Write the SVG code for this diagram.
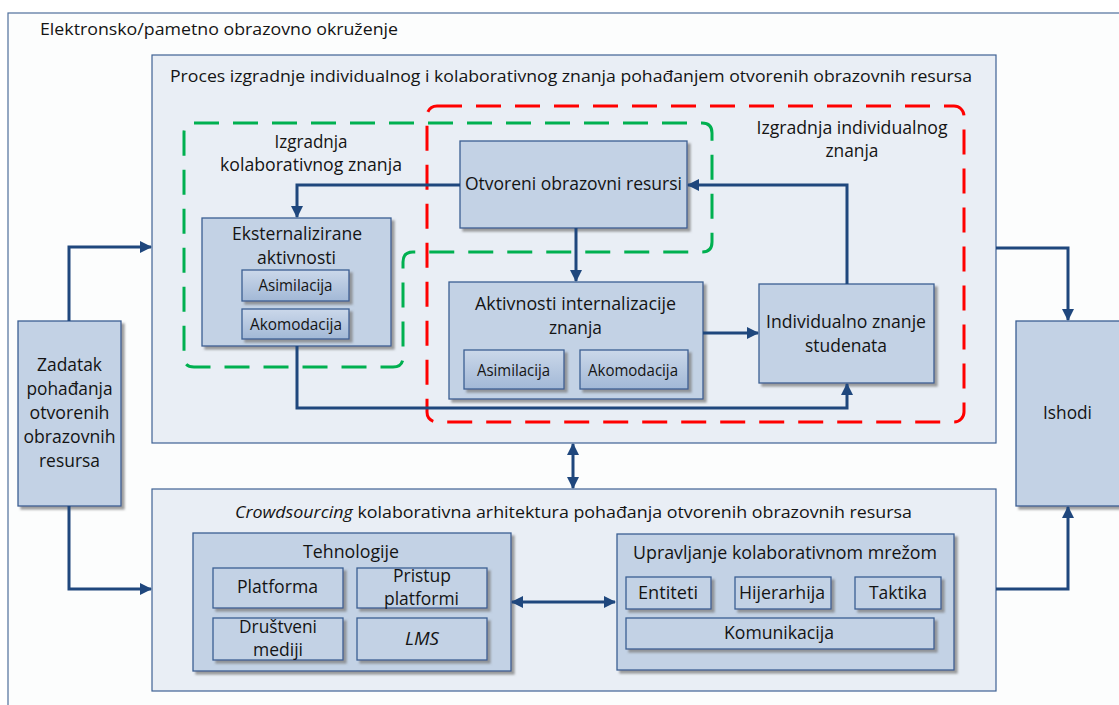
<svg xmlns="http://www.w3.org/2000/svg" width="1119" height="705" viewBox="0 0 1119 705">
  <defs>
    <style>
      text { font-family: "Open Sans", Lato, "Liberation Sans", sans-serif; fill: #141414; font-size: 17.5px; }
      .outer { fill: #fcfdfd; stroke: #4f6f9c; stroke-width: 1.2; }
      .panel { fill: #e9eef5; stroke: #3f6294; stroke-width: 1.2; }
      .node { fill: #c3d2e5; stroke: #3c5f93; stroke-width: 1.3; filter: url(#shadow); }
      .sub { fill: url(#subGrad); stroke: #3c5f93; stroke-width: 1.3; filter: url(#shadow); }
      .wire { fill: none; stroke: #1f477d; stroke-width: 3; }
      .red { fill: none; stroke: #ff0000; stroke-width: 3; stroke-dasharray: 25 14; }
      .green { fill: none; stroke: #00b050; stroke-width: 3; stroke-dasharray: 25 14; }
      .title { font-size: 16.5px; }
      .small { font-size: 15.5px; }
      .mid { text-anchor: middle; }
    </style>
    <linearGradient id="subGrad" x1="0" y1="0" x2="0" y2="1">
      <stop offset="0" stop-color="#cbd8ea"/>
      <stop offset="1" stop-color="#a2b8d6"/>
    </linearGradient>
    <filter id="shadow" x="-10%" y="-10%" width="130%" height="130%">
      <feDropShadow dx="3" dy="3" stdDeviation="0.8" flood-color="#7f7f7f" flood-opacity="0.75"/>
    </filter>
    <marker id="arrow" viewBox="0 0 12 12" refX="11" refY="6" markerWidth="12" markerHeight="12" markerUnits="userSpaceOnUse" orient="auto-start-reverse">
      <path d="M0,0 L12,6 L0,12 Z" fill="#1f477d"/>
    </marker>
  </defs>

  <!-- Environment frame -->
  <g id="environment">
    <rect class="outer" x="8" y="13" width="1130" height="710"/>
    <text class="title" x="40" y="35" textLength="358" lengthAdjust="spacingAndGlyphs">Elektronsko/pametno obrazovno okruženje</text>
  </g>

  <!-- Knowledge-building process panel -->
  <g id="process">
    <rect class="panel" x="152" y="55" width="844" height="388"/>
    <text class="mid title" x="571" y="82" textLength="802" lengthAdjust="spacingAndGlyphs">Proces izgradnje individualnog i kolaborativnog znanja pohađanjem otvorenih obrazovnih resursa</text>
  </g>

  <!-- Dashed regions -->
  <g id="individual-region">
    <rect class="red" x="427" y="106" width="537" height="316" rx="10"/>
    <text class="mid" x="852" y="134" textLength="191" lengthAdjust="spacingAndGlyphs">Izgradnja individualnog</text>
    <text class="mid" x="852" y="157" textLength="53" lengthAdjust="spacingAndGlyphs">znanja</text>
  </g>
  <g id="collaborative-region">
    <path class="green" d="M194,123 H702 Q712,123 712,133 V242 Q712,252 702,252 H413 Q403,252 403,262 V357 Q403,367 393,367 H194 Q184,367 184,357 V133 Q184,123 194,123 Z"/>
    <text class="mid" x="311" y="148" textLength="73" lengthAdjust="spacingAndGlyphs">Izgradnja</text>
    <text class="mid" x="311" y="171" textLength="182" lengthAdjust="spacingAndGlyphs">kolaborativnog znanja</text>
  </g>

  <!-- Process nodes -->
  <g id="oer">
    <rect class="node" x="460" y="141" width="227" height="87"/>
    <text class="mid" x="573.5" y="190" textLength="217" lengthAdjust="spacingAndGlyphs">Otvoreni obrazovni resursi</text>
  </g>
  <g id="externalized">
    <rect class="node" x="202" y="218" width="189" height="128"/>
    <text class="mid" x="297" y="240" textLength="130" lengthAdjust="spacingAndGlyphs">Eksternalizirane</text>
    <text class="mid" x="296.5" y="264" textLength="79" lengthAdjust="spacingAndGlyphs">aktivnosti</text>
    <rect class="sub" x="242" y="270" width="107" height="31"/>
    <text class="mid small" x="295.5" y="291" textLength="74" lengthAdjust="spacingAndGlyphs">Asimilacija</text>
    <rect class="sub" x="242" y="309" width="107" height="30"/>
    <text class="mid small" x="296" y="330" textLength="92" lengthAdjust="spacingAndGlyphs">Akomodacija</text>
  </g>
  <g id="internalization">
    <rect class="node" x="449" y="282" width="254" height="117"/>
    <text class="mid" x="575.5" y="310" textLength="201" lengthAdjust="spacingAndGlyphs">Aktivnosti internalizacije</text>
    <text class="mid" x="575.5" y="334" textLength="53" lengthAdjust="spacingAndGlyphs">znanja</text>
    <rect class="sub" x="464" y="350" width="100" height="39"/>
    <text class="mid small" x="513.5" y="376" textLength="73" lengthAdjust="spacingAndGlyphs">Asimilacija</text>
    <rect class="sub" x="580" y="350" width="108" height="39"/>
    <text class="mid small" x="633" y="376" textLength="90" lengthAdjust="spacingAndGlyphs">Akomodacija</text>
  </g>
  <g id="individual-knowledge">
    <rect class="node" x="759" y="284" width="175" height="99"/>
    <text class="mid" x="846" y="328" textLength="160" lengthAdjust="spacingAndGlyphs">Individualno znanje</text>
    <text class="mid" x="846" y="352" textLength="82" lengthAdjust="spacingAndGlyphs">studenata</text>
  </g>

  <!-- Side nodes -->
  <g id="task">
    <rect class="node" x="18" y="321" width="103" height="185"/>
    <text class="mid" x="69.5" y="371" textLength="65" lengthAdjust="spacingAndGlyphs">Zadatak</text>
    <text class="mid" x="69.5" y="395" textLength="86" lengthAdjust="spacingAndGlyphs">pohađanja</text>
    <text class="mid" x="69.5" y="419" textLength="80" lengthAdjust="spacingAndGlyphs">otvorenih</text>
    <text class="mid" x="69.5" y="443" textLength="92" lengthAdjust="spacingAndGlyphs">obrazovnih</text>
    <text class="mid" x="69.5" y="467" textLength="61" lengthAdjust="spacingAndGlyphs">resursa</text>
  </g>
  <g id="outcomes">
    <rect class="node" x="1016" y="321" width="110" height="185"/>
    <text class="mid" x="1067.5" y="419" textLength="49" lengthAdjust="spacingAndGlyphs">Ishodi</text>
  </g>

  <!-- Crowdsourcing architecture panel -->
  <g id="architecture">
    <rect class="panel" x="152" y="489" width="844" height="202"/>
    <text class="mid title" x="573.5" y="518" textLength="677" lengthAdjust="spacingAndGlyphs"><tspan font-style="italic">Crowdsourcing</tspan> kolaborativna arhitektura pohađanja otvorenih obrazovnih resursa</text>
  </g>
  <g id="technologies">
    <rect class="node" x="193" y="533" width="318" height="138"/>
    <text class="mid" x="351" y="558" textLength="96" lengthAdjust="spacingAndGlyphs">Tehnologije</text>
    <rect class="node" x="213" y="568" width="130" height="40"/>
    <text class="mid" x="277.5" y="593" textLength="81" lengthAdjust="spacingAndGlyphs">Platforma</text>
    <rect class="node" x="357" y="568" width="130" height="40"/>
    <text class="mid" x="422" y="582" textLength="58" lengthAdjust="spacingAndGlyphs">Pristup</text>
    <text class="mid" x="421.5" y="605" textLength="75" lengthAdjust="spacingAndGlyphs">platformi</text>
    <rect class="node" x="213" y="618" width="130" height="42"/>
    <text class="mid" x="278" y="633" textLength="78" lengthAdjust="spacingAndGlyphs">Društveni</text>
    <text class="mid" x="278" y="656" textLength="50" lengthAdjust="spacingAndGlyphs">mediji</text>
    <rect class="node" x="357" y="618" width="130" height="42"/>
    <text class="mid" x="422" y="645" font-style="italic" textLength="34" lengthAdjust="spacingAndGlyphs">LMS</text>
  </g>
  <g id="network-management">
    <rect class="node" x="617" y="534" width="337" height="136"/>
    <text class="mid" x="785" y="559" textLength="304" lengthAdjust="spacingAndGlyphs">Upravljanje kolaborativnom mrežom</text>
    <rect class="node" x="626" y="577" width="85" height="32"/>
    <text class="mid" x="668" y="599" textLength="60" lengthAdjust="spacingAndGlyphs">Entiteti</text>
    <rect class="node" x="735" y="577" width="96" height="32"/>
    <text class="mid" x="782" y="599" textLength="86" lengthAdjust="spacingAndGlyphs">Hijerarhija</text>
    <rect class="node" x="855" y="577" width="86" height="32"/>
    <text class="mid" x="898" y="599" textLength="58" lengthAdjust="spacingAndGlyphs">Taktika</text>
    <rect class="node" x="626" y="618" width="308" height="31"/>
    <text class="mid" x="779" y="639" textLength="110" lengthAdjust="spacingAndGlyphs">Komunikacija</text>
  </g>

  <!-- Connectors -->
  <g id="connectors">
    <path class="wire" d="M69,321 V247 H151" marker-end="url(#arrow)"/>
    <path class="wire" d="M69,506 V589 H151" marker-end="url(#arrow)"/>
    <path class="wire" d="M996,248 H1068 V320" marker-end="url(#arrow)"/>
    <path class="wire" d="M996,589 H1068 V507" marker-end="url(#arrow)"/>
    <path class="wire" d="M573,444 V488" marker-start="url(#arrow)" marker-end="url(#arrow)"/>
    <path class="wire" d="M512,602 H615" marker-start="url(#arrow)" marker-end="url(#arrow)"/>
    <path class="wire" d="M460,185 H297 V217" marker-end="url(#arrow)"/>
    <path class="wire" d="M576,228 V281" marker-end="url(#arrow)"/>
    <path class="wire" d="M703,333 H758" marker-end="url(#arrow)"/>
    <path class="wire" d="M847,284 V185 H688" marker-end="url(#arrow)"/>
    <path class="wire" d="M297,346 V408 H847 V384" marker-end="url(#arrow)"/>
  </g>
</svg>
